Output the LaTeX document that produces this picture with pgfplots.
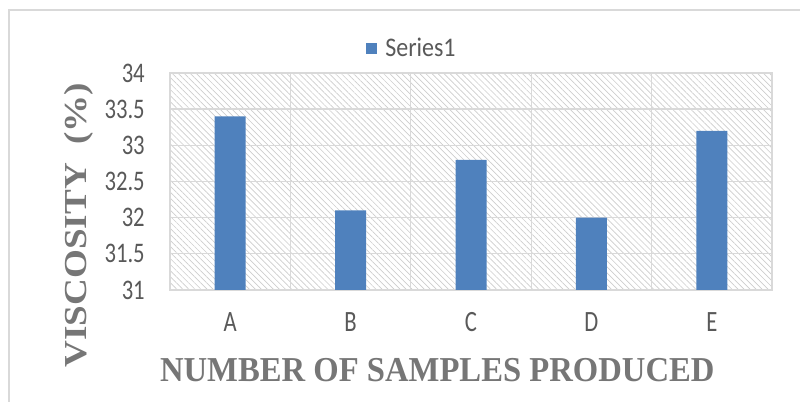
\documentclass[border=0pt]{standalone}
\usepackage{pgfplots}
\pgfplotsset{compat=1.18}
\usepackage{fontspec}
\setmainfont{Carlito}
\newfontfamily\titlefont{Liberation Serif}
\usetikzlibrary{patterns.meta}
\definecolor{barblue}{RGB}{79,129,189}
\definecolor{gridgray}{RGB}{217,217,217}
\definecolor{txtgray}{RGB}{89,89,89}
\definecolor{ttlgray}{RGB}{118,118,118}
\definecolor{hatch}{RGB}{205,205,205}
\begin{document}
\begin{tikzpicture}[x=1pt,y=1pt]
\path[use as bounding box] (-127.5,-84) rectangle (472.5,217.5);
\draw[gridgray, line width=1pt] (-120.75,-84) -- (-120.75,210) -- (472.5,210);
\begin{axis}[
  at={(0,0)}, anchor=south west,
  width=451.5pt, height=162.75pt, scale only axis,
  ybar, bar width=23.25pt,
  ymin=31, ymax=34, ytick={31,31.5,32,32.5,33,33.5,34},
  xmin=-0.5, xmax=4.5, xtick={0,1,2,3,4},
  xticklabels={\scalebox{1}[1.3]{A},\scalebox{1}[1.3]{B},\scalebox{1}[1.3]{C},\scalebox{1}[1.3]{D},\scalebox{1}[1.3]{E}},
  minor xtick={0.5,1.5,2.5,3.5},
  ymajorgrids, xminorgrids,
  grid style={gridgray, line width=1pt},
  minor grid style={gridgray, line width=1pt},
  axis line style={gridgray, line width=1pt},
  major tick length=0pt, minor tick length=0pt,
  tick style={draw=none},
  axis background/.style={pattern={Lines[angle=-45,distance=3.2pt,line width=0.5pt]}, pattern color=hatch},
  /pgf/number format/assume math mode=true,
  tick label style={font=\fontsize{17}{20}\selectfont, text=txtgray},
  yticklabel={\scalebox{1}[1.25]{\pgfmathprintnumber{\tick}}},
  yticklabel style={anchor=east, inner sep=0pt, xshift=-18.75pt, /pgf/number format/.cd, fixed, precision=1},
  xticklabel style={anchor=center, inner sep=0pt, yshift=-24pt},
  xlabel={\scalebox{1}[1.07]{\titlefont\bfseries NUMBER OF SAMPLES PRODUCED}},
  xlabel style={at={(axis description cs:0.444,-0.369)}, anchor=center, font=\fontsize{24.5}{28}\selectfont, text=ttlgray, inner sep=0pt},
  ylabel={\scalebox{1.16}[1]{\titlefont\bfseries VISCOSITY\hspace{0.5em}(\%)}},
  ylabel style={at={(axis description cs:-0.151,0.2995)}, anchor=center, rotate=0, font=\fontsize{24}{28}\selectfont, text=ttlgray, inner sep=0pt},
  legend entries={\hspace{4pt}\scalebox{1}[1.12]{Series1}},
  legend style={draw=none, fill=none, at={(axis description cs:0.3256,1.115)}, anchor=west, font=\fontsize{18}{21}\selectfont, text=txtgray, inner sep=0pt, cells={anchor=west}},
  legend image code/.code={\fill[barblue] (0pt,-4.125pt) rectangle (8.25pt,4.125pt);},
]
\addplot[fill=barblue, draw=none] coordinates {(0,33.4) (1,32.1) (2,32.8) (3,32.0) (4,33.2)};
\end{axis}
\end{tikzpicture}
\end{document}
